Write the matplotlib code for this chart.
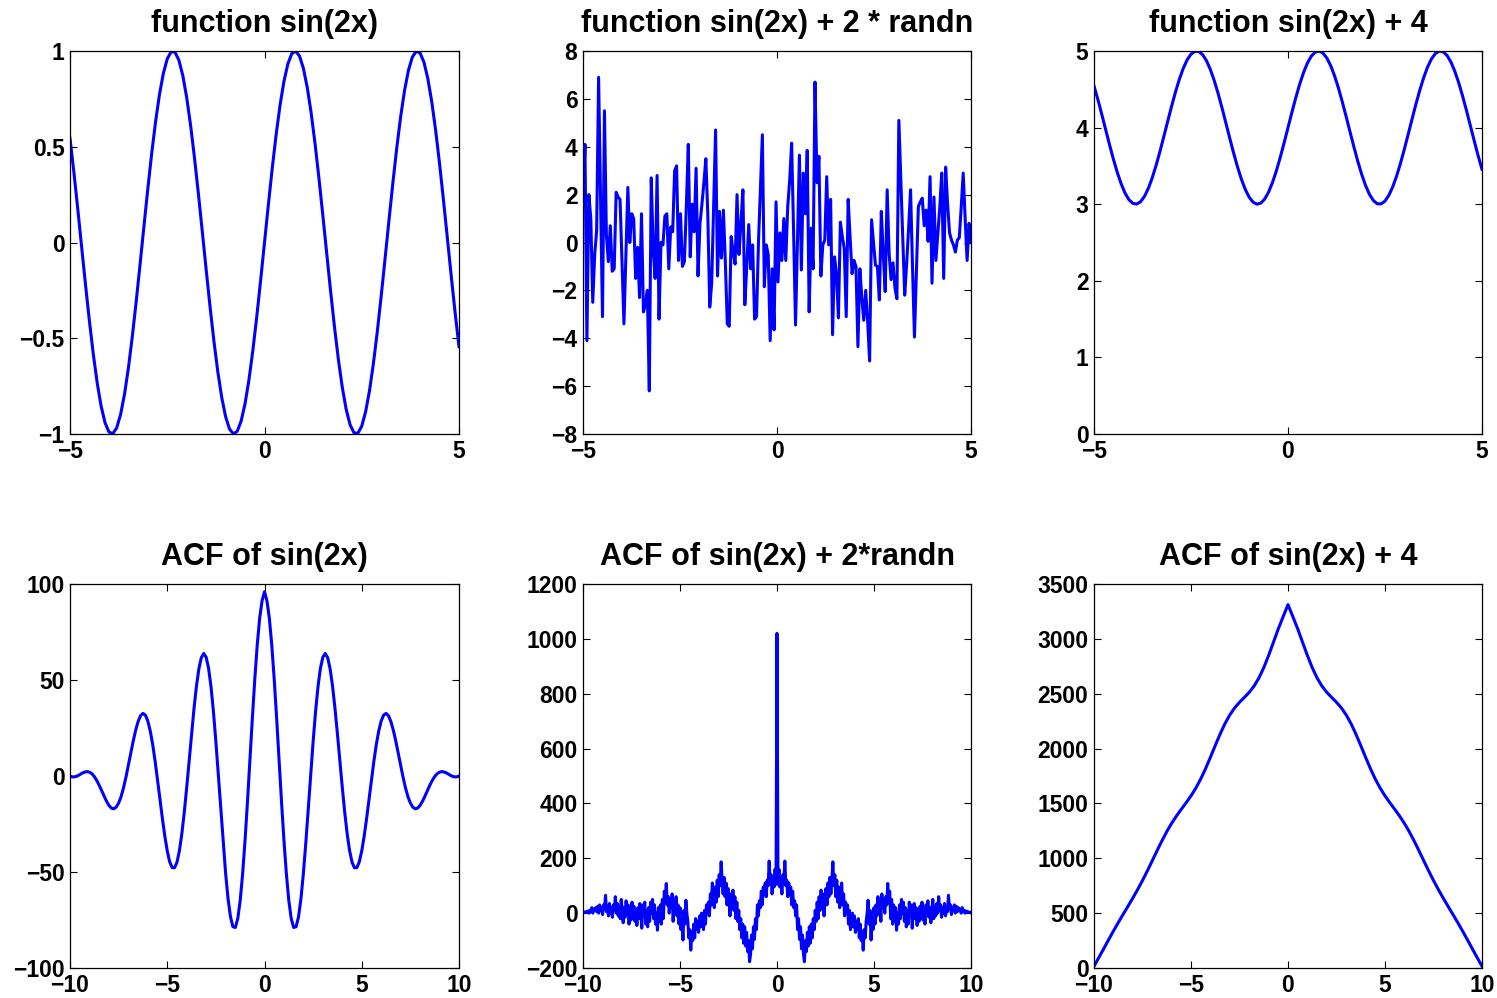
import numpy as np
import matplotlib.pyplot as plt
from matplotlib.ticker import FuncFormatter

plt.rcParams["font.family"] = ["Liberation Sans", "DejaVu Sans"]
plt.rcParams["font.weight"] = "bold"

# --- data ---
x_fun = np.linspace(-5, 5, 101)
sin2x = [0.5440, 0.3665, 0.1743, -0.0248, -0.2229, -0.4121, -0.5849, -0.7344, -0.8546, -0.9407,
         -0.9894, -0.9985, -0.9679, -0.8987, -0.7937, -0.6570, -0.4941, -0.3115, -0.1165, 0.0831,
         0.2794, 0.4646, 0.6313, 0.7728, 0.8835, 0.9589, 0.9962, 0.9937, 0.9516, 0.8716,
         0.7568, 0.6119, 0.4425, 0.2555, 0.0584, -0.1411, -0.3350, -0.5155, -0.6755, -0.8085,
         -0.9093, -0.9738, -0.9996, -0.9854, -0.9320, -0.8415, -0.7174, -0.5646, -0.3894, -0.1987,
         0.0,
         0.1987, 0.3894, 0.5646, 0.7174, 0.8415, 0.9320, 0.9854, 0.9996, 0.9738, 0.9093,
         0.8085, 0.6755, 0.5155, 0.3350, 0.1411, -0.0584, -0.2555, -0.4425, -0.6119, -0.7568,
         -0.8716, -0.9516, -0.9937, -0.9962, -0.9589, -0.8835, -0.7728, -0.6313, -0.4646, -0.2794,
         -0.0831, 0.1165, 0.3115, 0.4941, 0.6570, 0.7937, 0.8987, 0.9679, 0.9985, 0.9894,
         0.9407, 0.8546, 0.7344, 0.5849, 0.4121, 0.2229, 0.0248, -0.1743, -0.3665, -0.5440]

sin2x_plus4 = [4.544, 4.367, 4.174, 3.975, 3.777, 3.588, 3.415, 3.266, 3.145, 3.059,
               3.011, 3.002, 3.032, 3.101, 3.206, 3.343, 3.506, 3.689, 3.884, 4.083,
               4.279, 4.465, 4.631, 4.773, 4.884, 4.959, 4.996, 4.994, 4.952, 4.872,
               4.757, 4.612, 4.443, 4.256, 4.058, 3.859, 3.665, 3.485, 3.325, 3.192,
               3.091, 3.026, 3.000, 3.015, 3.068, 3.159, 3.283, 3.435, 3.611, 3.801,
               4.000,
               4.199, 4.389, 4.565, 4.717, 4.842, 4.932, 4.985, 5.000, 4.974, 4.909,
               4.809, 4.676, 4.516, 4.335, 4.141, 3.942, 3.745, 3.558, 3.388, 3.243,
               3.128, 3.048, 3.006, 3.004, 3.041, 3.117, 3.227, 3.369, 3.535, 3.721,
               3.917, 4.117, 4.312, 4.494, 4.657, 4.794, 4.899, 4.968, 4.999, 4.989,
               4.941, 4.855, 4.734, 4.585, 4.412, 4.223, 4.025, 3.826, 3.634, 3.456]

x_noise = np.linspace(-5, 5, 200)
sin2x_noisy = [1.6, 4.1, -4.1, 2.0, 1.0, -2.5, -0.5, 0.5, 6.9, 2.0,
               -3.1, 5.5, 0.3, -0.8, 0.7, -1.2, -1.1, 2.1, 1.9, 1.8,
               -0.8, -3.4, -0.5, 2.3, 0.0, 1.2, 1.0, -1.5, -0.2, -2.3,
               1.2, -2.9, -2.6, -2.0, -6.2, 2.7, -0.3, -1.5, 2.8, -3.2,
               0.0, -0.1, 1.1, 1.2, -1.1, 0.65, 0.45, 3.0, 3.2, -0.75,
               1.2, -1.0, -0.8, 1.5, 4.1, -0.6, 1.6, 0.45, 3.1, -1.4,
               0.8, 1.6, 2.5, 3.5, 1.2, -2.7, -1.7, 1.5, 4.7, -1.4,
               1.3, -0.65, 1.35, -0.8, -3.4, -3.5, 0.25, -0.4, -0.9, 2.0,
               -0.5, 0.8, 2.2, -2.6, -1.0, 0.75, -1.1, -0.1, -3.2, -3.1,
               0.0, 2.3, 4.5, -1.85, -0.1, -0.5, -4.1, -1.1, -3.65, 1.7,
               -1.65, 0.4, -0.75, 1.0, -0.75, 1.5, 2.6, 4.15, 0.5, -3.45,
               0.2, 3.65, -1.15, 2.9, 1.2, 3.85, -2.9, 0.6, -1.1, 6.7,
               2.5, 3.6, -1.4, -0.1, 0.1, 2.75, -0.1, 1.8, -3.85, -0.6,
               -1.3, -3.15, 0.85, 0.25, -0.25, -3.1, 1.8, 0.2, -1.3, -0.75,
               -1.0, -4.35, -1.1, -2.3, -3.25, -2.0, -3.3, -4.95, 0.95, 0.0,
               -0.95, -1.0, -2.4, 1.3, -0.5, -2.05, 2.2, -0.45, -1.55, -0.85,
               -1.9, -2.35, 5.1, 2.6, 0.2, -2.2, -0.9, 0.6, 2.2, -1.0,
               -3.95, -1.2, 1.5, 1.7, 1.85, 0.7, 1.35, 0.05, 2.75, -1.7,
               1.9, -0.75, 0.4, 1.5, 2.9, -1.5, 3.15, 1.6, 0.4, 0.1,
               -0.1, -0.4, 0.1, 0.2, 1.5, 2.9, 1.0, -0.75, 0.8, 0.0]

# autocorrelations are symmetric: values for lags >= 0 only
acf_sin_half = [96.0, 91.3, 82.1, 68.1, 50.3, 29.9, 8.2, -13.4, -33.5, -51.0,
                -64.9, -74.3, -78.9, -78.5, -73.3, -63.8, -50.6, -34.7, -17.3, 0.6,
                17.9, 33.5, 46.5, 56.1, 61.9, 63.8, 61.6, 55.7, 46.7, 35.1,
                21.9, 7.9, -6.0, -18.9, -30.1, -38.9, -44.9, -47.8, -47.7, -44.7,
                -39.0, -31.3, -22.1, -12.0, -1.9, 7.8, 16.5, 23.5, 28.7, 31.7,
                32.6, 31.4, 28.3, 23.8, 18.2, 11.9, 5.5, -0.7, -6.2, -10.8,
                -14.1, -16.2, -17.1, -16.7, -15.3, -13.1, -10.5, -7.6, -4.8, -2.3,
                -0.3, 1.2, 2.0, 2.3, 2.0, 1.5, 0.7, 0.0, -0.4, -0.5,
                0.0]

acf_noise_half = [1020,
                  105, 160, 95, 130, 70, 140, 110, 190, 100,
                  120, 60, 110, 75, 95, 30, 80, 20, 45, -10,
                  30, -60, -20, -95, -50, -130, -80, -150, -177, -100,
                  -140, -70, -120, -50, -110, -40, -90, -20, -60, 10,
                  -30, 40, -20, 60, 10, 84, 20, 70, -10, 50,
                  90, 30, 110, 60, 130, 70, 120, 187, 100, 140,
                  60, 120, 40, 95, 20, 80, 110, 30, 70, -10,
                  40, 0, 30, -40, 10, -60, -20, 0, -50, -10,
                  -70, -30, -60, -20, -90, -40, -100, -70, -135, -60,
                  -90, -30, 0, 47, -40, 10, -98, -20, -60, 20,
                  -40, 30, -10, 60, 0, 40, -30, 70, 20, 50,
                  0, 60, 30, 108, 40, 80, -20, 50, -40, 30,
                  -30, 20, -62, 0, -40, 30, -20, 50, 0, 40,
                  -30, 20, -50, 10, -40, 40, -10, 30, -55, 0,
                  35, -20, 20, -45, 10, -30, 25, -10, 40, -25,
                  15, -40, 30, 0, 45, -15, 20, -35, 10, 50,
                  -20, 25, -10, 35, 0, 60, 10, 30, -15, 20,
                  0, 35, -10, 25, 5, 65, 15, 30, -5, 20,
                  10, 30, 0, 25, 5, 20, 10, 15, 0, 20,
                  5, 10, 0, 8, 3, 5, 2, 4, 1]

acf_sin4_half = [3312, 3202.5, 3091.1, 2969.4, 2848.1, 2737.1, 2643.5, 2569.5, 2512.6, 2466.3,
                 2421.9, 2370.9, 2306.7, 2226.8, 2132.3, 2027.9, 1920.4, 1816.7, 1722.3, 1639.9,
                 1569.0, 1506.3, 1446.9, 1385.7, 1318.3, 1242.6, 1158.7, 1069.0, 976.7, 885.4,
                 797.9, 715.3, 637.5, 562.7, 488.8, 413.7, 336.4, 256.8, 175.9, 95.2,
                 16.0]


def mirror(half):
    return list(half[:0:-1]) + list(half)


acf_sin = mirror(acf_sin_half)
acf_noise = mirror(acf_noise_half)
acf_sin4 = mirror(acf_sin4_half)
lag_sin = np.linspace(-10, 10, len(acf_sin))
lag_noise = np.linspace(-10, 10, len(acf_noise))
lag_sin4 = np.linspace(-10, 10, len(acf_sin4))

W, H = 1497, 998
fig = plt.figure(figsize=(W / 100, H / 100), dpi=100)

cols = [(70, 389), (583, 388), (1094, 388)]
rows = [(51, 434), (584, 968)]


def make_axes(col, row):
    left, width = cols[col]
    top, bottom = rows[row]
    return fig.add_axes([left / W, 1 - bottom / H, width / W, (bottom - top) / H])


fmt = FuncFormatter(lambda v, p: ("%g" % v).replace("-", "\u2212"))

panels = [
    (0, 0, x_fun, sin2x, "function sin(2x)", (-5, 5), [-5, 0, 5], (-1, 1), [-1, -0.5, 0, 0.5, 1]),
    (1, 0, x_noise, sin2x_noisy, "function sin(2x) + 2 * randn", (-5, 5), [-5, 0, 5],
     (-8, 8), list(range(-8, 9, 2))),
    (2, 0, x_fun, sin2x_plus4, "function sin(2x) + 4", (-5, 5), [-5, 0, 5], (0, 5), list(range(0, 6))),
    (0, 1, lag_sin, acf_sin, "ACF of sin(2x)", (-10, 10), [-10, -5, 0, 5, 10],
     (-100, 100), [-100, -50, 0, 50, 100]),
    (1, 1, lag_noise, acf_noise, "ACF of sin(2x) + 2*randn", (-10, 10), [-10, -5, 0, 5, 10],
     (-200, 1200), list(range(-200, 1201, 200))),
    (2, 1, lag_sin4, acf_sin4, "ACF of sin(2x) + 4", (-10, 10), [-10, -5, 0, 5, 10],
     (0, 3500), list(range(0, 3501, 500))),
]

for col, row, xs, ys, title, xlim, xticks, ylim, yticks in panels:
    ax = make_axes(col, row)
    ax.plot(xs, ys, color="#0000ff", linewidth=2.2)
    ax.set_xlim(*xlim)
    ax.set_ylim(*ylim)
    ax.set_xticks(xticks)
    ax.set_yticks(yticks)
    ax.xaxis.set_major_formatter(fmt)
    ax.yaxis.set_major_formatter(fmt)
    ax.tick_params(direction="in", top=True, right=True, length=5, width=0.8,
                   labelsize=16.5)
    ax.tick_params(axis="x", pad=4)
    ax.tick_params(axis="y", pad=4)
    for lab in ax.get_xticklabels() + ax.get_yticklabels():
        lab.set_fontweight("bold")
    for s in ax.spines.values():
        s.set_linewidth(0.9)
    ax.set_title(title, fontsize=22, fontweight="bold", pad=13.5)

fig.savefig("out.png", dpi=100)
